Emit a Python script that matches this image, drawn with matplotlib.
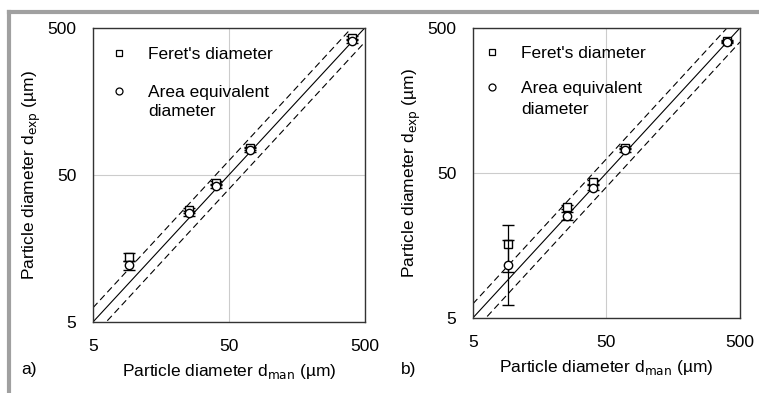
import matplotlib
matplotlib.use("Agg")
import matplotlib.pyplot as plt
from matplotlib.lines import Line2D
import numpy as np

plt.rcParams['font.family'] = ['Liberation Sans', 'DejaVu Sans']

# Panel a data
a_x = [9.2, 25.5, 40.3, 71.0, 405.0]
a_feret = [13.9, 28.8, 44.3, 76.0, 427.0]
a_feret_err = [0.9, 1.2, 1.3, 2.0, 12.0]
a_area = [12.2, 27.4, 42.1, 74.0, 410.0]
a_area_err = [0.9, 1.2, 1.3, 2.0, 12.0]

# Panel b data
b_x = [9.1, 25.2, 39.5, 69.0, 402.0]
b_feret = [16.1, 29.2, 43.5, 74.8, 405.0]
b_feret_err = [5.8, 1.0, 1.5, 2.0, 8.0]
b_area = [11.6, 25.2, 39.5, 71.8, 400.0]
b_area_err = [5.5, 1.5, 1.5, 2.0, 8.0]

ticks = [5, 50, 500]
tick_labels = ["5", "50", "500"]
line_x = [5, 500]
band = 1.25
legend_labels = ["Feret's diameter", ["Area equivalent", "diameter"]]

fig = plt.figure(figsize=(7.59, 3.93), dpi=100)

# gray frame lines of the figure
fig.add_artist(Line2D([0.0118, 0.0118], [0.0, 0.97], transform=fig.transFigure,
                      color='#a0a0a0', lw=3))
fig.add_artist(Line2D([0.0118, 1.0], [0.97, 0.97], transform=fig.transFigure,
                      color='#a0a0a0', lw=3))

axes_pos = [[0.1225, 0.1807, 0.358, 0.748], [0.623, 0.191, 0.352, 0.738]]
# legend layout per panel: marker x, text x, square y, circle y, line gap (axes fraction)
legend_layout = [(0.096, 0.202, 0.915, 0.786, 0.064),
                 (0.071, 0.180, 0.917, 0.797, 0.072)]
panels = [(a_x, a_feret, a_feret_err, a_area, a_area_err, "a)"),
          (b_x, b_feret, b_feret_err, b_area, b_area_err, "b)")]

for pos, lay, (x, f, fe, ar, are, tag) in zip(axes_pos, legend_layout, panels):
    ax = fig.add_axes(pos)
    ax.set_xscale('log')
    ax.set_yscale('log')
    ax.set_xlim(5, 500)
    ax.set_ylim(5, 500)
    ax.minorticks_off()
    ax.set_xticks(ticks)
    ax.set_xticklabels(tick_labels)
    ax.set_yticks(ticks)
    ax.set_yticklabels(tick_labels)
    ax.tick_params(length=0, labelsize=12.5, pad=12)
    ax.grid(True, color='#cccccc', lw=0.8)
    ax.set_axisbelow(True)
    for s in ax.spines.values():
        s.set_linewidth(1.0)
        s.set_color('#333333')
    lx = np.array(line_x, dtype=float)
    ax.plot(lx, lx, color='black', lw=0.8)
    ax.plot(lx, lx * band, color='black', lw=0.8, ls=(0, (6, 3.5)))
    ax.plot(lx, lx / band, color='black', lw=0.8, ls=(0, (6, 3.5)))
    ax.errorbar(x, f, yerr=fe, fmt='s', mfc='white', mec='black', ecolor='black',
                ms=5.5, mew=1.0, elinewidth=0.9, capsize=4, capthick=0.9, zorder=3)
    ax.errorbar(x, ar, yerr=are, fmt='o', mfc='white', mec='black', ecolor='black',
                ms=6, mew=1.0, elinewidth=0.9, capsize=4, capthick=0.9, zorder=4)

    # legend (drawn manually so the circle aligns with the first text line)
    mx, tx, sy, cy, gap = lay
    ax.plot([mx], [sy], marker='s', ls='none', mfc='white', mec='black', ms=5,
            mew=0.9, transform=ax.transAxes, clip_on=False)
    ax.plot([mx], [cy], marker='o', ls='none', mfc='white', mec='black', ms=5,
            mew=0.9, transform=ax.transAxes, clip_on=False)
    ax.text(tx, sy, legend_labels[0], transform=ax.transAxes, fontsize=12.5,
            va='center_baseline', ha='left')
    for i, line in enumerate(legend_labels[1]):
        ax.text(tx, cy - i * gap, line, transform=ax.transAxes, fontsize=12.5,
                va='center_baseline', ha='left')

    ax.set_xlabel("Particle diameter d$_{\\mathrm{man}}$ (µm)", fontsize=12.5, labelpad=6)
    ax.set_ylabel("Particle diameter d$_{\\mathrm{exp}}$ (µm)", fontsize=12.5, labelpad=3)
    fig.text(pos[0] - 0.095, 0.06, tag, fontsize=12.5, ha='left', va='center')

fig.savefig("out.png", dpi=100)
